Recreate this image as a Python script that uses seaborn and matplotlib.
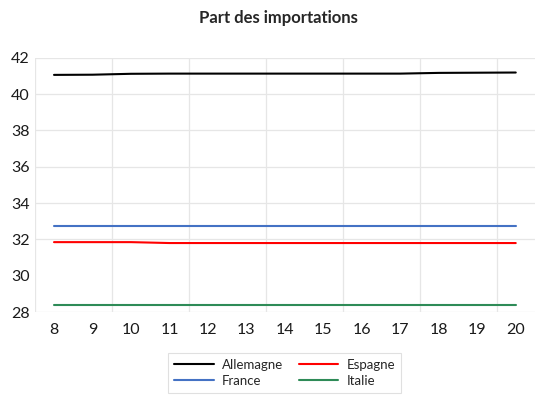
import numpy as np
import pandas as pd
import seaborn as sns
import matplotlib.pyplot as plt
from matplotlib.ticker import MultipleLocator

years = list(range(8, 21))
allemagne = [41.06, 41.07, 41.12, 41.13, 41.13, 41.13, 41.13, 41.13, 41.13, 41.13, 41.17, 41.18, 41.19]
espagne = [31.85, 31.85, 31.85, 31.8, 31.8, 31.8, 31.8, 31.8, 31.8, 31.8, 31.8, 31.8, 31.8]
france = [32.73] * 13
italie = [28.37] * 13

series = {"Allemagne": allemagne, "Espagne": espagne, "France": france, "Italie": italie}
colors = {"Allemagne": "#000000", "Espagne": "#ff0000", "France": "#4472c4", "Italie": "#2e8b57"}

df = pd.concat([pd.DataFrame({"year": years, "value": v, "pays": k}) for k, v in series.items()],
               ignore_index=True)

sns.set_theme(style="white")
plt.rcParams['font.family'] = ['Lato', 'DejaVu Sans']

fig = plt.figure(figsize=(5.35, 3.96), dpi=100)
ax = fig.add_axes([0.065, 0.212, 0.935, 0.642])

sns.lineplot(data=df, x="year", y="value", hue="pays", palette=colors, linewidth=1.5,
             ax=ax, legend=False)

ax.set_xlim(7.5, 20.5)
ax.set_ylim(28, 42)
ax.set_xticks(years)
ax.set_yticks(range(28, 43, 2))
ax.xaxis.set_minor_locator(MultipleLocator(2, offset=1.5))
ax.grid(True, axis="y", which="major", color="#e6e6e6", linewidth=0.9)
ax.grid(True, axis="x", which="minor", color="#e6e6e6", linewidth=0.9)
ax.grid(False, axis="x", which="major")
for gl in ax.yaxis.get_gridlines():
    if gl.get_ydata()[0] in (28, 42):
        gl.set_visible(False)
for s in ax.spines.values():
    s.set_visible(False)
ax.tick_params(axis="both", which="both", length=0, labelsize=11.5, colors="#1a1a1a")
ax.tick_params(axis="x", pad=8)
ax.set_xlabel("")
ax.set_ylabel("")

fig.suptitle("Part des importations", x=0.52, y=0.975, fontsize=12, fontweight="bold")

# column-first fill: gives rows Allemagne/Espagne and France/Italie
order = ["Allemagne", "France", "Espagne", "Italie"]
handles = [plt.Line2D([], [], color=colors[k], linewidth=1.5) for k in order]
leg = fig.legend(handles, order, loc="lower center", bbox_to_anchor=(0.532, -0.008),
                 ncol=2, fontsize=9.5, frameon=True, fancybox=False, edgecolor="#d9d9d9",
                 handlelength=3.0, handletextpad=0.6, columnspacing=1.2, borderpad=0.45,
                 labelspacing=0.3)
leg.get_frame().set_linewidth(0.8)

fig.savefig("out.png", dpi=100)
